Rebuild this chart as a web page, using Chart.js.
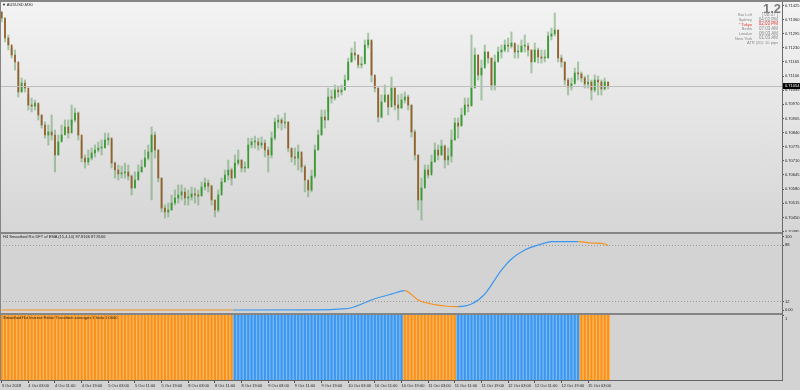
<!DOCTYPE html>
<html>
<head>
<meta charset="utf-8">
<script src="https://cdn.jsdelivr.net/npm/chart.js@4.4.1/dist/chart.umd.min.js"></script>
<style>
  body { margin: 0; width: 800px; height: 390px; background: #d4d4d4; position: relative; overflow: hidden;
         font-family: "Liberation Sans", Arial, sans-serif; }
  .pane { position: absolute; left: 0; width: 800px; }
  .pane canvas { display: block; }
  #pMain { top: 2px; height: 230px; background: linear-gradient(#f3f3f3, #d6d6d6); }
  #pRsi { top: 234px; height: 79px; background: #d3d3d3; }
  #pHisto { top: 315px; height: 75px; background: #d3d3d3; }
  .rule { position: absolute; background: #858585; }
  .t { position: absolute; white-space: nowrap; line-height: 1; font-size: 4px; color: #222; }
  .info { position: absolute; white-space: nowrap; line-height: 1; font-size: 4px; color: #8a8a8a; text-align: right; }
  .red { color: #e3342b; }
</style>
</head>
<body>
<div class="pane" id="pMain"><canvas id="cMain" width="800" height="230"></canvas></div>
<div class="pane" id="pRsi"><canvas id="cRsi" width="800" height="79"></canvas></div>
<div class="pane" id="pHisto"><canvas id="cHisto" width="800" height="75"></canvas></div>

<div class="rule" style="left:0;top:0;width:800px;height:2px"></div>
<div class="rule" style="left:0;top:232px;width:782px;height:2px"></div>
<div class="rule" style="left:0;top:313px;width:782px;height:2px"></div>
<div class="rule" style="left:0;top:0;width:1px;height:381px"></div>
<div class="rule" style="left:782px;top:2px;width:1px;height:379px;background:#6a6a6a"></div>

<div class="t" style="left:2px;top:2.5px">▼ AUDUSD,M30</div>
<div class="t" style="left:3px;top:235.3px">H4 Smoothed Rsi DFT of EMA (15,4,10) 87.8166 87.8166</div>
<div class="t" style="left:3px;top:316.3px">Smoothed Rsi Inverse Fisher Transform averages 3 histo 1.0000</div>

<div class="info" style="right:19px;top:1.6px;font-size:13px;font-weight:bold;color:#7c7c7c">1.2</div>
<div class="info" style="right:48px;top:13.3px">Bar Left</div>
<div class="info" style="right:22px;top:13.1px;font-size:4.5px">[ 08:37 ]</div>
<div class="info" style="right:48px;top:17.8px">Sydney</div>
<div class="info" style="right:22px;top:17.6px;font-size:4.5px">04:03 PM</div>
<div class="info red" style="right:48px;top:22.5px">* Tokyo</div>
<div class="info red" style="right:22px;top:22.3px;font-size:4.5px">02:03 PM</div>
<div class="info" style="right:48px;top:27.1px">Berlin</div>
<div class="info" style="right:22px;top:26.9px;font-size:4.5px">07:03 AM</div>
<div class="info" style="right:48px;top:31.8px">London</div>
<div class="info" style="right:22px;top:31.6px;font-size:4.5px">06:03 AM</div>
<div class="info" style="right:48px;top:36.5px">New York</div>
<div class="info" style="right:22px;top:36.3px;font-size:4.5px">01:03 AM</div>
<div class="info" style="right:22px;top:41.1px">ATR (20): 10 pips</div>

<script>
// AUDUSD M30, one candle per hour, 3 Oct 2018 -> 15 Oct 2018
const OPEN = [
  0.71395,0.71367,0.71275,0.71243,0.71197,0.71165,0.71027,0.71068,0.71045,0.70967,
  0.70962,0.70976,0.70921,0.70875,0.70829,0.70843,0.70829,0.70737,0.70797,0.70829,
  0.70866,0.70838,0.70898,0.70930,0.70829,0.70723,0.70705,0.70723,0.70746,0.70760,
  0.70769,0.70769,0.70806,0.70815,0.70700,0.70668,0.70650,0.70654,0.70659,0.70640,
  0.70585,0.70622,0.70659,0.70682,0.70723,0.70751,0.70829,0.70760,0.70631,0.70493,
  0.70475,0.70484,0.70516,0.70539,0.70553,0.70567,0.70539,0.70544,0.70558,0.70553,
  0.70548,0.70590,0.70608,0.70594,0.70530,0.70484,0.70553,0.70613,0.70645,0.70668,
  0.70631,0.70700,0.70714,0.70677,0.70677,0.70783,0.70797,0.70797,0.70783,0.70792,
  0.70760,0.70737,0.70815,0.70889,0.70898,0.70884,0.70889,0.70769,0.70728,0.70723,
  0.70751,0.70682,0.70622,0.70576,0.70640,0.70760,0.70829,0.70912,0.70898,0.71004,
  0.70999,0.71036,0.71027,0.71036,0.71082,0.71165,0.71206,0.71197,0.71151,0.71156,
  0.71243,0.71266,0.71105,0.71045,0.70912,0.70981,0.71013,0.70958,0.71045,0.70967,
  0.70953,0.70990,0.71004,0.70967,0.70843,0.70737,0.70530,0.70585,0.70668,0.70645,
  0.70705,0.70760,0.70737,0.70778,0.70714,0.70732,0.70806,0.70884,0.70870,0.70921,
  0.70967,0.70962,0.71045,0.71197,0.71105,0.71137,0.71211,0.71183,0.71059,0.71165,
  0.71211,0.71220,0.71243,0.71238,0.71252,0.71211,0.71211,0.71238,0.71238,0.71220,
  0.71165,0.71220,0.71188,0.71183,0.71183,0.71284,0.71294,0.71312,0.71183,0.71165,
  0.71082,0.71050,0.71064,0.71114,0.71110,0.71091,0.71064,0.71073,0.71036,0.71082,
  0.71073,0.71041,0.71073
];
const HIGH = [
  0.71395,0.71367,0.71289,0.71229,0.71220,0.71128,0.71091,0.71082,0.71013,0.70999,
  0.70990,0.70967,0.70921,0.70889,0.70875,0.70921,0.70852,0.70829,0.70875,0.70898,
  0.70898,0.70967,0.70953,0.70935,0.70806,0.70737,0.70760,0.70769,0.70783,0.70797,
  0.70806,0.70838,0.70838,0.70806,0.70705,0.70691,0.70686,0.70700,0.70691,0.70645,
  0.70659,0.70691,0.70714,0.70760,0.70783,0.70866,0.70843,0.70760,0.70631,0.70507,
  0.70516,0.70553,0.70576,0.70599,0.70599,0.70585,0.70576,0.70590,0.70585,0.70576,
  0.70613,0.70631,0.70622,0.70599,0.70530,0.70576,0.70631,0.70668,0.70714,0.70677,
  0.70737,0.70760,0.70714,0.70705,0.70815,0.70815,0.70824,0.70815,0.70820,0.70806,
  0.70774,0.70843,0.70907,0.70921,0.70907,0.70930,0.70889,0.70760,0.70769,0.70783,
  0.70723,0.70691,0.70613,0.70668,0.70783,0.70852,0.70944,0.70944,0.71045,0.71036,
  0.71059,0.71054,0.71059,0.71105,0.71183,0.71229,0.71257,0.71197,0.71188,0.71266,
  0.71298,0.71257,0.71091,0.71045,0.71013,0.71059,0.71013,0.71096,0.71045,0.71013,
  0.71018,0.71027,0.71013,0.70967,0.70852,0.70737,0.70631,0.70691,0.70691,0.70737,
  0.70792,0.70783,0.70806,0.70783,0.70769,0.70852,0.70907,0.70907,0.70953,0.70999,
  0.70999,0.71289,0.71229,0.71197,0.71174,0.71243,0.71211,0.71183,0.71197,0.71234,
  0.71243,0.71266,0.71275,0.71303,0.71243,0.71243,0.71266,0.71289,0.71252,0.71220,
  0.71252,0.71229,0.71220,0.71220,0.71303,0.71321,0.71390,0.71312,0.71197,0.71165,
  0.71091,0.71091,0.71137,0.71165,0.71119,0.71100,0.71105,0.71082,0.71105,0.71100,
  0.71082,0.71091,0.71073
];
const LOW = [
  0.71349,0.71257,0.71220,0.71183,0.71128,0.71004,0.71027,0.71027,0.70944,0.70935,
  0.70944,0.70898,0.70861,0.70815,0.70783,0.70806,0.70659,0.70737,0.70806,0.70838,
  0.70815,0.70875,0.70889,0.70806,0.70705,0.70677,0.70691,0.70714,0.70728,0.70751,
  0.70737,0.70774,0.70783,0.70677,0.70631,0.70622,0.70631,0.70631,0.70622,0.70553,
  0.70585,0.70631,0.70659,0.70691,0.70714,0.70530,0.70723,0.70613,0.70475,0.70447,
  0.70452,0.70484,0.70507,0.70516,0.70530,0.70507,0.70507,0.70530,0.70516,0.70507,
  0.70553,0.70576,0.70567,0.70507,0.70452,0.70475,0.70576,0.70613,0.70622,0.70599,
  0.70659,0.70691,0.70659,0.70659,0.70760,0.70769,0.70769,0.70760,0.70769,0.70728,
  0.70659,0.70723,0.70806,0.70861,0.70852,0.70861,0.70751,0.70705,0.70691,0.70668,
  0.70659,0.70567,0.70544,0.70567,0.70631,0.70760,0.70829,0.70861,0.70935,0.70976,
  0.70990,0.71004,0.71013,0.71036,0.71082,0.71165,0.71174,0.71137,0.71137,0.71165,
  0.71229,0.71073,0.71027,0.70889,0.70907,0.70990,0.70921,0.70990,0.70944,0.70898,
  0.70953,0.70976,0.70944,0.70820,0.70714,0.70484,0.70438,0.70599,0.70631,0.70659,
  0.70705,0.70714,0.70737,0.70677,0.70691,0.70705,0.70806,0.70815,0.70875,0.70935,
  0.70935,0.70967,0.71059,0.71082,0.70990,0.71151,0.71160,0.71036,0.71036,0.71174,
  0.71183,0.71211,0.71211,0.71229,0.71183,0.71183,0.71211,0.71211,0.71192,0.71114,
  0.71183,0.71160,0.71160,0.71165,0.71183,0.71266,0.71284,0.71165,0.71142,0.71059,
  0.71013,0.71036,0.71073,0.71082,0.71073,0.71045,0.71045,0.70990,0.71027,0.71013,
  0.71013,0.71036,0.71041
];
const CLOSE = [
  0.71367,0.71275,0.71243,0.71197,0.71165,0.71027,0.71068,0.71045,0.70967,0.70962,
  0.70976,0.70921,0.70875,0.70829,0.70843,0.70829,0.70737,0.70797,0.70829,0.70866,
  0.70838,0.70898,0.70930,0.70829,0.70723,0.70705,0.70723,0.70746,0.70760,0.70769,
  0.70769,0.70806,0.70815,0.70700,0.70668,0.70650,0.70654,0.70659,0.70640,0.70585,
  0.70622,0.70659,0.70682,0.70723,0.70751,0.70829,0.70760,0.70631,0.70493,0.70475,
  0.70484,0.70516,0.70539,0.70553,0.70567,0.70539,0.70544,0.70558,0.70553,0.70548,
  0.70590,0.70608,0.70594,0.70530,0.70484,0.70553,0.70613,0.70645,0.70668,0.70631,
  0.70700,0.70714,0.70677,0.70677,0.70783,0.70797,0.70797,0.70783,0.70792,0.70760,
  0.70737,0.70815,0.70889,0.70898,0.70884,0.70889,0.70769,0.70728,0.70723,0.70751,
  0.70682,0.70622,0.70576,0.70640,0.70760,0.70829,0.70912,0.70898,0.71004,0.70999,
  0.71036,0.71027,0.71036,0.71082,0.71165,0.71206,0.71197,0.71151,0.71156,0.71243,
  0.71266,0.71105,0.71045,0.70912,0.70981,0.71013,0.70958,0.71045,0.70967,0.70953,
  0.70990,0.71004,0.70967,0.70843,0.70737,0.70530,0.70585,0.70668,0.70645,0.70705,
  0.70760,0.70737,0.70778,0.70714,0.70732,0.70806,0.70884,0.70870,0.70921,0.70967,
  0.70962,0.71045,0.71197,0.71105,0.71137,0.71211,0.71183,0.71059,0.71165,0.71211,
  0.71220,0.71243,0.71238,0.71252,0.71211,0.71211,0.71238,0.71238,0.71220,0.71165,
  0.71220,0.71188,0.71183,0.71183,0.71284,0.71294,0.71312,0.71183,0.71165,0.71082,
  0.71050,0.71064,0.71114,0.71110,0.71091,0.71064,0.71073,0.71036,0.71082,0.71073,
  0.71041,0.71073,0.71054
];

// time axis: one label every 8 candles
const TIME_LABELS = ['3 Oct 2018', '4 Oct 03:00', '4 Oct 11:00', '4 Oct 19:00', '5 Oct 03:00',
  '5 Oct 11:00', '5 Oct 19:00', '8 Oct 03:00', '8 Oct 11:00', '8 Oct 19:00', '9 Oct 03:00',
  '9 Oct 11:00', '9 Oct 19:00', '10 Oct 03:00', '10 Oct 11:00', '10 Oct 19:00', '11 Oct 03:00',
  '11 Oct 11:00', '11 Oct 19:00', '12 Oct 03:00', '12 Oct 11:00', '12 Oct 19:00', '15 Oct 03:00'];
const TICK_EVERY = 8;
const PRICE_TICKS = [0.71425, 0.71360, 0.71295, 0.71230, 0.71165, 0.71100, 0.71035, 0.70970,
  0.70905, 0.70840, 0.70775, 0.70710, 0.70645, 0.70580, 0.70515, 0.70450, 0.70385];

// H4 smoothed RSI DFT line (candle index, value)
const RSI_X = [0, 69.5, 95, 102, 105, 111, 114, 117, 121, 125, 129, 133, 137, 141, 145, 150,
  153, 157, 162, 165, 173, 177, 181, 182];
const RSI_Y = [0.4, 0.4, 0.6, 1.8, 3.5, 14, 18.4, 22, 26.6, 14, 8.5, 5.8, 5.1, 8.5, 22, 54.6,
  69.5, 81.7, 89.8, 93, 93, 91.2, 89.8, 87.8166];
const RSI_TICKS = [100, 88, 12, 0];
const RSI_LEVELS = [88, 12];

// inverse fisher histogram: runs of candles with the same direction, level 1
const TREND_RUNS = [['down', 70], ['up', 51], ['down', 16], ['up', 37], ['down', 9]];
const HISTO_LEVEL = 1;

const FONT = '"Liberation Sans", Arial, sans-serif';
const UP = '#3a9a33', DOWN = '#96602c', WICK = 'rgba(100,155,95,0.5)';
const BLUE = '#3b97ef', ORANGE = '#f7921c';
const BLUE_LT = '#7dbaf3', ORANGE_LT = '#fbb862';

Chart.defaults.font.family = FONT;
Chart.defaults.font.size = 4;
Chart.defaults.color = '#222';

const X_MIN = -0.5, X_MAX = 234.2;

function trendAt(i) {
  let end = 0;
  for (const [dir, len] of TREND_RUNS) {
    end += len;
    if (i < end) return dir;
  }
  return TREND_RUNS[TREND_RUNS.length - 1][0];
}

function xScale(show) {
  const s = {
    type: 'linear', min: X_MIN, max: X_MAX, display: show, offset: false,
    afterBuildTicks: s => { s.ticks = TIME_LABELS.map((_, k) => ({ value: k * TICK_EVERY })); },
    ticks: { autoSkip: false, maxRotation: 0, align: 'start', padding: 0, color: '#222',
             callback: v => TIME_LABELS[Math.round(v / TICK_EVERY)] },
    grid: { drawOnChartArea: false, offset: false, tickLength: 3, color: '#555' },
    border: { color: '#666' }
  };
  if (show) s.afterFit = sc => { sc.height = 10; sc.paddingLeft = 0; sc.paddingRight = 0; };
  return s;
}

function yScale(min, max, ticks, fmt) {
  return {
    position: 'right', min, max,
    afterBuildTicks: s => { s.ticks = ticks.map(v => ({ value: v })); },
    afterFit: s => { s.width = 18; s.paddingTop = 0; s.paddingBottom = 0; },
    ticks: { autoSkip: false, padding: 1, color: '#222', callback: fmt },
    grid: { drawOnChartArea: false, tickLength: 2, color: '#555' },
    border: { display: false }
  };
}

const common = {
  responsive: false, animation: false, events: [],
  layout: { padding: 0 },
  plugins: { legend: { display: false }, tooltip: { enabled: false } }
};

const idx = CLOSE.map((_, i) => i);
const BID = CLOSE[CLOSE.length - 1];

const bidLine = {
  id: 'bidLine',
  afterDatasetsDraw(chart) {
    const { ctx, chartArea } = chart;
    const y = Math.round(chart.scales.y.getPixelForValue(BID)) + 0.5;
    ctx.save();
    ctx.strokeStyle = '#bdbdbd';
    ctx.lineWidth = 1;
    ctx.beginPath();
    ctx.moveTo(chartArea.left, y);
    ctx.lineTo(chartArea.right, y);
    ctx.stroke();
    ctx.restore();
  },
  afterDraw(chart) {
    const { ctx, chartArea } = chart;
    const y = chart.scales.y.getPixelForValue(BID);
    ctx.save();
    ctx.fillStyle = '#000';
    ctx.fillRect(chartArea.right, y - 3, 18, 6);
    ctx.fillStyle = '#fff';
    ctx.font = '4px ' + FONT;
    ctx.textBaseline = 'middle';
    ctx.fillText(BID.toFixed(5), chartArea.right + 3, y + 0.3);
    ctx.restore();
  }
};

new Chart(document.getElementById('cMain'), {
  type: 'bar',
  data: {
    datasets: [
      {
        data: idx.map(i => ({ x: i, y: [OPEN[i], CLOSE[i]] })),
        backgroundColor: idx.map(i => CLOSE[i] >= OPEN[i] ? UP : DOWN),
        barThickness: 1.1, grouped: false, minBarLength: 1, order: 0
      },
      {
        data: idx.map(i => ({ x: i, y: [LOW[i], HIGH[i]] })),
        backgroundColor: WICK,
        barThickness: 1.4, grouped: false, order: 1
      }
    ]
  },
  options: {
    ...common,
    scales: {
      x: xScale(false),
      y: yScale(0.703828, 0.714408, PRICE_TICKS, v => v.toFixed(5))
    }
  },
  plugins: [bidLine]
});

const rsiY = yScale(-3.66, 103.4, RSI_TICKS, v => v === 0 ? '0.00' : String(v));
rsiY.grid = {
  drawOnChartArea: true, tickLength: 2, tickColor: '#555',
  color: c => RSI_LEVELS.includes(c.tick && c.tick.value) ? '#9a9a9a' : 'rgba(0,0,0,0)'
};
rsiY.border = { display: false, dash: [1, 2] };

new Chart(document.getElementById('cRsi'), {
  type: 'line',
  data: {
    datasets: [{
      data: RSI_X.map((x, k) => ({ x, y: RSI_Y[k] })),
      borderColor: BLUE, borderWidth: 1.2, pointRadius: 0,
      cubicInterpolationMode: 'monotone',
      segment: {
        borderColor: c => trendAt((c.p0.parsed.x + c.p1.parsed.x) / 2) === 'up' ? BLUE : ORANGE
      }
    }]
  },
  options: {
    ...common,
    scales: { x: xScale(false), y: rsiY }
  }
});

const histoY = yScale(0, 1, [HISTO_LEVEL], v => String(v));
histoY.ticks.labelOffset = 4;

new Chart(document.getElementById('cHisto'), {
  type: 'bar',
  data: {
    datasets: [
      {
        data: idx.map(i => ({ x: i, y: HISTO_LEVEL })),
        backgroundColor: idx.map(i => trendAt(i) === 'up' ? BLUE : ORANGE),
        barPercentage: 0.62, categoryPercentage: 1, grouped: false, order: 0
      },
      {
        data: idx.map(i => ({ x: i, y: HISTO_LEVEL })),
        backgroundColor: idx.map(i => trendAt(i) === 'up' ? BLUE_LT : ORANGE_LT),
        barPercentage: 1, categoryPercentage: 1, grouped: false, order: 1
      }
    ]
  },
  options: {
    ...common,
    scales: { x: xScale(true), y: histoY }
  }
});
</script>
</body>
</html>
